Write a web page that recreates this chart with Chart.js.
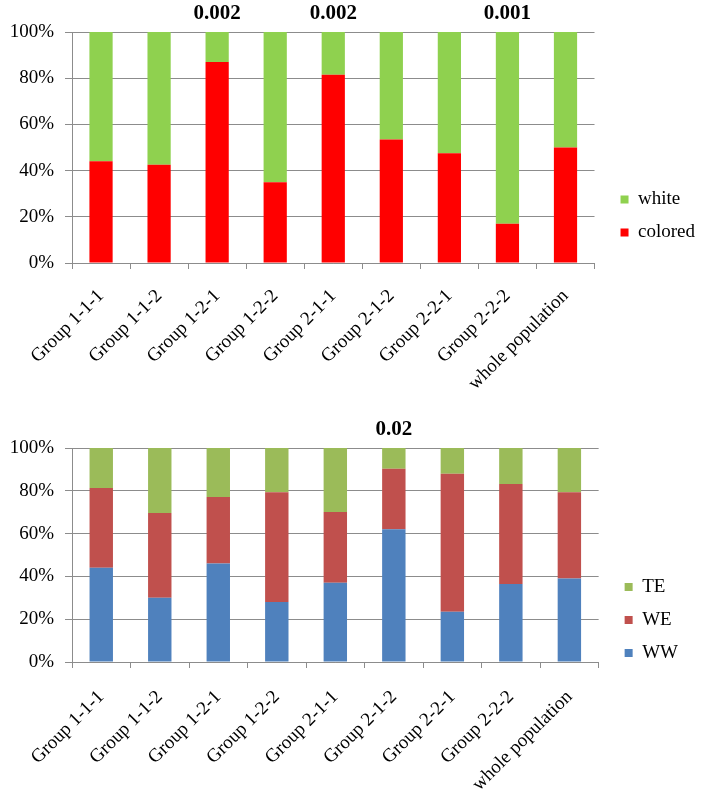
<!DOCTYPE html>
<html>
<head>
<meta charset="utf-8">
<script src="https://cdn.jsdelivr.net/npm/chart.js@4.4.1/dist/chart.umd.min.js"></script>
<style>
    body { margin: 0; background: #ffffff; }
    .wrap { position: relative; width: 708px; }
    canvas { display: block; }
</style>
</head>
<body>
<div class="wrap"><canvas id="colorChart" width="708" height="400"></canvas></div>
<div class="wrap"><canvas id="typeChart" width="708" height="392"></canvas></div>
<script>
// Categories shared by both charts
const groups = ['Group 1-1-1', 'Group 1-1-2', 'Group 1-2-1', 'Group 1-2-2', 'Group 2-1-1',
    'Group 2-1-2', 'Group 2-2-1', 'Group 2-2-2', 'whole population'];

// Top chart (%)
const colored = [44, 42.5, 87, 35, 81.5, 53.5, 47.5, 17, 50];
const white = [56, 57.5, 13, 65, 18.5, 46.5, 52.5, 83, 50];
const topPvals = ['', '', '0.002', '', '0.002', '', '', '0.001', ''];

// Bottom chart (%)
const ww = [44, 30, 46, 28, 37, 62, 23.5, 36.5, 39];
const we = [37.3, 39.6, 31.1, 51.3, 33.1, 28.3, 64.5, 46.7, 40.3];
const te = [18.7, 30.4, 22.9, 20.7, 29.9, 9.7, 12, 16.8, 20.7];
const bottomPvals = ['', '', '', '', '', '0.02', '', '', ''];

const yTicks = [0, 20, 40, 60, 80, 100];

const SERIF = "'Liberation Serif', 'DejaVu Serif', serif";
const GRID = '#8c8c8c';

// draws the p-values above the chosen bars
const pvalPlugin = {
    id: 'pvals',
    afterDatasetsDraw(chart, args, opts) {
        const ctx = chart.ctx;
        const x = chart.scales.x;
        ctx.save();
        ctx.font = 'bold 21px ' + SERIF;
        ctx.fillStyle = '#000';
        ctx.textAlign = 'center';
        ctx.textBaseline = 'middle';
        opts.labels.forEach((lbl, i) => {
            if (lbl) ctx.fillText(lbl, x.getPixelForValue(i), chart.chartArea.top - opts.offset);
        });
        ctx.restore();
    }
};

// nudges the legend sideways, away from the plot
const legendShift = {
    id: 'legendShift',
    afterLayout(chart, args, opts) {
        if (chart.legend) {
            chart.legend.left += opts.dx;
            chart.legend.right += opts.dx;
        }
    }
};

function makeChart(id, datasets, pvals, cfg) {
    return new Chart(document.getElementById(id), {
        type: 'bar',
        data: { labels: groups, datasets: datasets },
        options: {
            responsive: false,
            animation: false,
            layout: { padding: { top: cfg.top, right: cfg.right, left: 0, bottom: 0 } },
            scales: {
                x: {
                    stacked: true,
                    offset: true,
                    border: { color: GRID, width: 1 },
                    grid: { offset: true, drawOnChartArea: false, drawTicks: true, tickLength: 6, color: GRID },
                    ticks: {
                        color: '#000',
                        font: { family: SERIF, size: 19 },
                        minRotation: 45, maxRotation: 45,
                        autoSkip: false,
                        padding: cfg.xPad
                    },
                    afterFit(scale) { scale.height = cfg.xHeight; }
                },
                y: {
                    stacked: true,
                    min: 0, max: 100,
                    border: { color: GRID, width: 1 },
                    grid: { color: GRID, tickLength: 7 },
                    afterBuildTicks(scale) { scale.ticks = yTicks.map(v => ({ value: v })); },
                    ticks: {
                        color: '#000',
                        font: { family: SERIF, size: 19 },
                        padding: 11,
                        callback: v => v + '%'
                    },
                    afterFit(scale) { scale.width = 72; }
                }
            },
            plugins: {
                legend: {
                    position: 'right',
                    reverse: true,
                    labels: {
                        color: '#000',
                        font: { family: SERIF, size: 19 },
                        boxWidth: 8,
                        boxHeight: 8,
                        padding: 14
                    }
                },
                tooltip: { enabled: false },
                pvals: { labels: pvals, offset: cfg.pOffset },
                legendShift: { dx: cfg.legendDx }
            }
        },
        plugins: [pvalPlugin, legendShift]
    });
}

makeChart('colorChart', [
    { label: 'colored', data: colored, backgroundColor: '#ff0000', categoryPercentage: 1, barPercentage: 0.4 },
    { label: 'white', data: white, backgroundColor: '#8fd14f', categoryPercentage: 1, barPercentage: 0.4 }
], topPvals, { top: 32, right: 15, xHeight: 137, xPad: 16, pOffset: 18, legendDx: 12 });

makeChart('typeChart', [
    { label: 'WW', data: ww, backgroundColor: '#4f81bd', categoryPercentage: 1, barPercentage: 0.4 },
    { label: 'WE', data: we, backgroundColor: '#c0504d', categoryPercentage: 1, barPercentage: 0.4 },
    { label: 'TE', data: te, backgroundColor: '#9bbb59', categoryPercentage: 1, barPercentage: 0.4 }
], bottomPvals, { top: 48, right: 32, xHeight: 130, xPad: 18, pOffset: 18, legendDx: 12 });
</script>
</body>
</html>
